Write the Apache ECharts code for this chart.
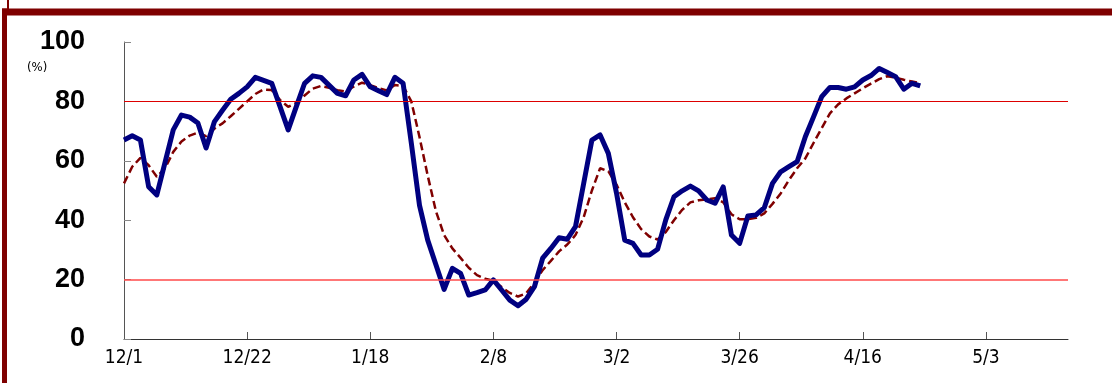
<!DOCTYPE html>
<html>
<head>
<meta charset="utf-8">
<script src="https://cdn.jsdelivr.net/npm/echarts@6/dist/echarts.min.js"></script>
<style>
  html, body { margin: 0; padding: 0; background: #fff; }
  #chart { width: 1112px; height: 383px; }
</style>
</head>
<body>
<div id="chart"></div>
<script>
  var tickLabels = ['12/1', '12/22', '1/18', '2/8', '3/2', '3/26', '4/16', '5/3'];
  var stepPerTick = 15;
  var totalSteps = 116;

  // daily index (solid navy)
  var dailyValues = [
    67, 68.4, 67, 51.3, 48.5, 59.5, 70.4, 75.4, 74.7, 72.7,
    64.3, 73.1, 77, 80.7, 82.7, 84.9, 88.1, 87.1, 86.1, 78.3,
    70.4, 78.3, 86.1, 88.6, 88.1, 85.4, 82.7, 81.9, 87.2, 89.1,
    84.9, 83.6, 82.3, 88.1, 86.1, 66, 45, 33.3, 25, 16.7,
    23.8, 22.1, 14.8, 15.6, 16.5, 19.9, 16.5, 13.1, 11.2, 13.4,
    17.6, 27.2, 30.5, 34.1, 33.6, 37.8, 52.4, 67, 68.7, 62.5,
    49.1, 33.3, 32.2, 28.3, 28.3, 30.2, 40.1, 47.9, 49.9, 51.5,
    49.9, 46.8, 45.7, 51.2, 35, 32.2, 41.4, 41.8, 44.2, 52.4,
    56.3, 58, 59.7, 68.1, 74.8, 81.6, 84.7, 84.7, 84.1, 84.9,
    87.2, 88.7, 91.1, 89.7, 88.3, 84.1, 86.1, 85.2
  ];

  // moving average (dashed dark red)
  var averageValues = [
    52.4, 58, 61, 58.5, 54.6, 57.5, 63, 66.5, 68.5, 69.5,
    68.3, 70.8, 72.6, 75, 77.5, 80, 82.5, 84, 83.8, 80.5,
    78.2, 79.5, 82, 84.3, 85.2, 84.6, 83.8, 83.3, 85, 86.3,
    85.5, 84.5, 83.7, 85.5, 85.2, 80, 68, 55, 43, 35,
    30.5, 27.3, 24, 21.5, 20.3, 19.6, 17.5, 15.5, 14.3, 15.4,
    19, 23.2, 26.3, 29.5, 31.8, 35, 41, 50, 57.5, 56.5,
    52, 46, 41, 37, 34.5, 33.5, 36, 40, 43.5, 46,
    46.7, 47, 47.4, 46, 42, 40.3, 40.3, 40.8, 42.3, 45.5,
    49, 53.5, 57.5, 60.8, 66, 71, 76, 79, 81, 82.7,
    84.4, 86, 87.5, 88.5, 88, 87.3, 86.7, 86.1
  ];

  var yTicks = [0, 20, 40, 60, 80, 100];
  var upperLine = 80;
  var lowerLine = 20;

  var categories = [];
  for (var i = 0; i < totalSteps; i++) {
    categories.push(i % stepPerTick === 0 ? tickLabels[i / stepPerTick] : '');
  }

  var frameColor = '#7f0000';
  var numFont = '"Liberation Sans", sans-serif';
  var condFont = '"DejaVu Sans Condensed", "DejaVu Sans", sans-serif';

  var option = {
    animation: false,
    backgroundColor: '#fff',
    grid: { left: 124, right: 44, top: 42, bottom: 44 },
    graphic: [
      { type: 'rect', shape: { x: 2, y: 8.5, width: 1110, height: 7 }, style: { fill: frameColor } },
      { type: 'rect', shape: { x: 2, y: 8.5, width: 5, height: 375 }, style: { fill: frameColor } },
      { type: 'rect', shape: { x: 7, y: 0, width: 2, height: 9 }, style: { fill: frameColor } },
      { type: 'text', left: 27, top: 61, style: { text: '(%)', font: '13px ' + condFont, fill: '#000' } }
    ],
    xAxis: {
      type: 'category',
      data: categories,
      boundaryGap: false,
      axisLine: { lineStyle: { color: '#333', width: 1 } },
      axisTick: { inside: true, length: 7, interval: stepPerTick - 1, lineStyle: { color: '#555' } },
      axisLabel: {
        interval: stepPerTick - 1,
        margin: 10,
        color: '#000',
        fontSize: 19,
        fontFamily: condFont
      },
      splitLine: { show: false }
    },
    yAxis: {
      type: 'value',
      min: yTicks[0],
      max: yTicks[yTicks.length - 1],
      interval: 20,
      axisLine: { show: true, lineStyle: { color: '#555', width: 1 } },
      axisTick: { show: true, inside: true, length: 7, lineStyle: { color: '#888' } },
      axisLabel: {
        margin: 39,
        color: '#000',
        fontSize: 27,
        fontWeight: 'bold',
        fontFamily: numFont
      },
      splitLine: { show: false }
    },
    series: [
      {
        type: 'line',
        data: averageValues,
        showSymbol: false,
        symbol: 'none',
        z: 3,
        lineStyle: { color: '#800000', width: 2.5, type: [8, 4] }
      },
      {
        type: 'line',
        data: dailyValues,
        showSymbol: false,
        symbol: 'none',
        z: 4,
        lineStyle: { color: '#000080', width: 5, join: 'round' },
        markLine: {
          silent: true,
          symbol: 'none',
          label: { show: false },
          data: [
            { yAxis: upperLine, lineStyle: { color: '#dd0000', width: 1, type: 'solid' } },
            { yAxis: lowerLine, lineStyle: { color: '#ff4a4a', width: 1.6, type: 'solid' } }
          ]
        }
      }
    ]
  };

  var myChart = echarts.init(document.getElementById('chart'));
  myChart.setOption(option);
</script>
</body>
</html>
